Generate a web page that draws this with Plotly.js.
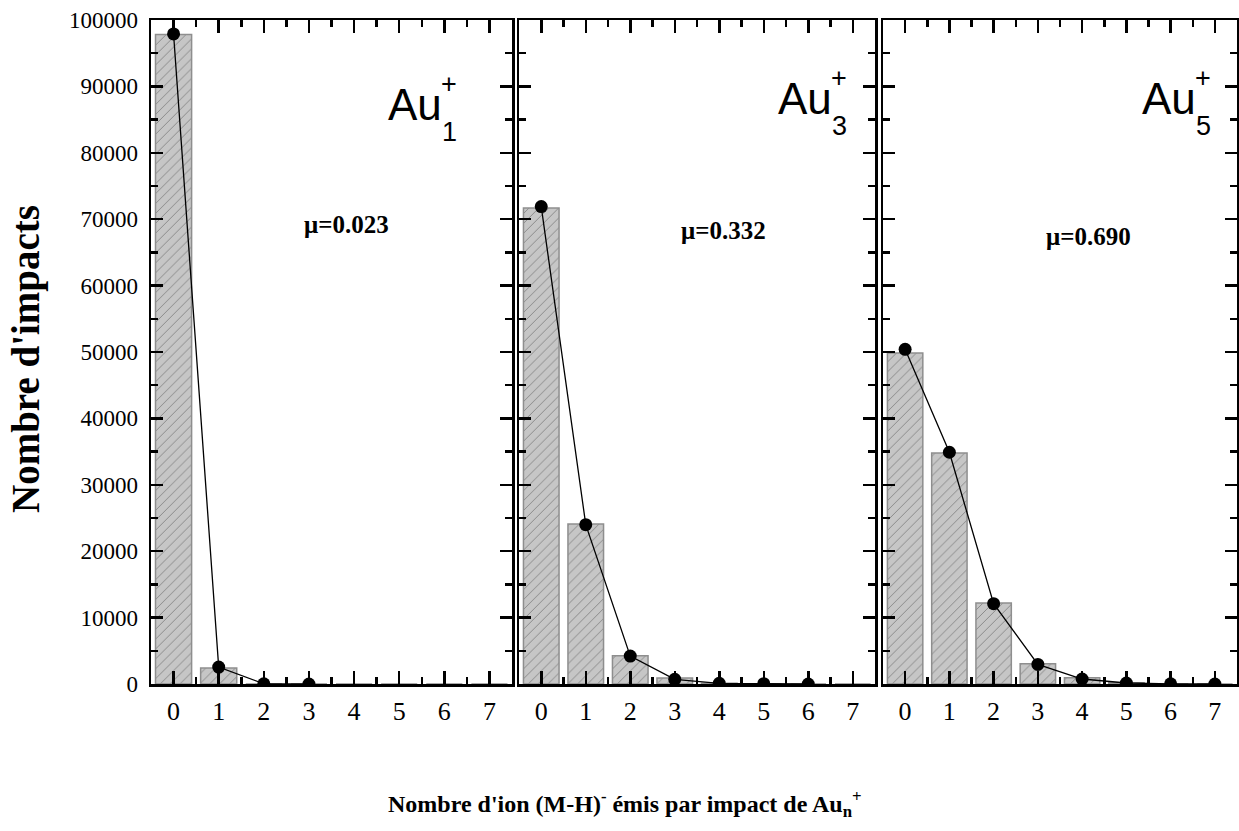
<!DOCTYPE html>
<html>
<head>
<meta charset="utf-8">
<script src="https://cdn.plot.ly/plotly-3.0.1.min.js"></script>
<style>html,body{margin:0;padding:0;background:#fff;}#chart{width:1239px;height:831px;}</style>
</head>
<body>
<div id="chart"></div>
<script>
// ---- data ----
const categories = [0, 1, 2, 3, 4, 5, 6, 7];
const xTickLabels = ['0', '1', '2', '3', '4', '5', '6', '7'];
const au1Bars = [97800, 2400, 0, 0, 0, 0, 0, 0];
const au1PointX = [0, 1, 2, 3];
const au1Points = [97900, 2550, 30, 0];
const au3Bars = [71700, 24100, 4250, 900, 100, 0, 0, 0];
const au3PointX = [0, 1, 2, 3, 4, 5, 6];
const au3Points = [71900, 24000, 4200, 700, 100, 50, 0];
const au5Bars = [49850, 34800, 12200, 3050, 950, 200, 0, 0];
const au5PointX = [0, 1, 2, 3, 4, 5, 6, 7];
const au5Points = [50400, 34900, 12100, 2950, 750, 150, 20, 0];
const ionNames = ['Au', 'Au', 'Au'];
const clusterSizes = ['1', '3', '5'];
const chargeSign = '+';
const muLabels = ['μ=0.023', 'μ=0.332', 'μ=0.690'];
const yTitle = "Nombre d'impacts";
const xTitle = "Nombre d'ion (M-H)<sup>-</sup> émis par impact de Au<sub>n</sub><sup>+</sup>";

// ---- build ----
const serif = 'Liberation Serif, Times New Roman, serif';
const sans = 'Liberation Sans, Arial, sans-serif';
const barStyle = {
  color: '#c6c6c6',
  line: {color: '#8e8e8e', width: 1.5},
  pattern: {shape: '/', fgcolor: '#8a8a8a', bgcolor: '#c6c6c6', size: 7, solidity: 0.14}
};
const panels = [
  {bars: au1Bars, px: au1PointX, py: au1Points},
  {bars: au3Bars, px: au3PointX, py: au3Points},
  {bars: au5Bars, px: au5PointX, py: au5Points}
];
const traces = [];
panels.forEach((p, i) => {
  const xa = i === 0 ? 'x' : 'x' + (i + 1);
  const ya = i === 0 ? 'y' : 'y' + (i + 1);
  traces.push({type: 'bar', x: categories, y: p.bars, xaxis: xa, yaxis: ya,
    width: 0.8, marker: barStyle, showlegend: false});
  traces.push({type: 'scatter', mode: 'lines+markers', x: p.px, y: p.py, xaxis: xa, yaxis: ya,
    line: {color: '#000', width: 1.3}, marker: {color: '#000', size: 13, symbol: 'circle'},
    showlegend: false});
});

const L = 151, R = 2, T = 20, B = 147, FW = 1239, FH = 831;
const W = FW - L - R, H = FH - T - B;
const px = v => (v - L) / W;        // pixel -> paper x
const py = v => (FH - B - v) / H;   // pixel -> paper y
const doms = [[px(151), px(512)], [px(519), px(875)], [px(883), 1]];

function xAxis(i) {
  return {
    domain: doms[i], range: [-0.5, 7.5], tickmode: 'array', tickvals: categories, ticktext: xTickLabels,
    ticks: 'inside', ticklen: 13, tickwidth: 2.5, tickcolor: '#000',
    minor: {ticks: 'inside', ticklen: 7, tickwidth: 2.5, tickcolor: '#000', tickvals: [-0.5, 0.5, 1.5, 2.5, 3.5, 4.5, 5.5, 6.5, 7.5]},
    showline: true, linecolor: '#000', linewidth: 2.5, mirror: 'allticks',
    showgrid: false, zeroline: false, fixedrange: true,
    tickfont: {family: serif, size: 26, color: '#000'},
    ticklabelstandoff: 2,
    anchor: i === 0 ? 'y' : 'y' + (i + 1)
  };
}
function yAxis(i) {
  return {
    domain: [0, 1], range: [0, 100000], dtick: 10000, tick0: 0, tickformat: 'd',
    ticks: 'inside', ticklen: 12, tickwidth: 2.5, tickcolor: '#000',
    minor: {ticks: 'inside', ticklen: 7, tickwidth: 2.5, tickcolor: '#000', dtick: 5000},
    showline: true, linecolor: '#000', linewidth: 2.5, mirror: 'allticks',
    showgrid: false, zeroline: false, fixedrange: true,
    showticklabels: i === 0,
    tickfont: {family: serif, size: 23, color: '#000'},
    ticklabelstandoff: 6,
    anchor: i === 0 ? 'x' : 'x' + (i + 1)
  };
}

// label placements (pixels): [Au left, Au center y, sub left, sub center y, plus left, plus center y]
const labelPos = [
  [386, 104, 440, 132, 439, 84],
  [776, 98, 830, 126, 829, 78],
  [1140, 98, 1194, 126, 1193, 78]
];
const muPos = [[346, 224], [723, 230], [1088, 236]];

const annotations = [];
labelPos.forEach((p, i) => {
  annotations.push({xref: 'paper', yref: 'paper', x: px(p[0]), y: py(p[1]), xanchor: 'left', yanchor: 'middle',
    text: ionNames[i], showarrow: false, font: {family: sans, size: 44, color: '#000'}});
  annotations.push({xref: 'paper', yref: 'paper', x: px(p[2]), y: py(p[3]), xanchor: 'left', yanchor: 'middle',
    text: clusterSizes[i], showarrow: false, font: {family: sans, size: 27, color: '#000'}});
  annotations.push({xref: 'paper', yref: 'paper', x: px(p[4]), y: py(p[5]), xanchor: 'left', yanchor: 'middle',
    text: chargeSign, showarrow: false, font: {family: sans, size: 27, color: '#000'}});
  annotations.push({xref: 'paper', yref: 'paper', x: px(muPos[i][0]), y: py(muPos[i][1]), xanchor: 'center', yanchor: 'middle',
    text: '<b>' + muLabels[i] + '</b>', showarrow: false, font: {family: serif, size: 25, color: '#000'}});
});
annotations.push({xref: 'paper', yref: 'paper', x: px(26), y: py(359), xanchor: 'center', yanchor: 'middle', textangle: -90,
  text: '<b>' + yTitle + '</b>', showarrow: false, font: {family: serif, size: 39, color: '#000'}});
annotations.push({xref: 'paper', yref: 'paper', x: px(625), y: py(804), xanchor: 'center', yanchor: 'middle',
  text: '<b>' + xTitle + '</b>', showarrow: false, font: {family: serif, size: 24, color: '#000'}});

const layout = {
  width: FW, height: FH,
  margin: {l: L, r: R, t: T, b: B},
  paper_bgcolor: '#fff', plot_bgcolor: '#fff',
  xaxis: xAxis(0), xaxis2: xAxis(1), xaxis3: xAxis(2),
  yaxis: yAxis(0), yaxis2: yAxis(1), yaxis3: yAxis(2),
  annotations: annotations
};

Plotly.newPlot('chart', traces, layout, {displayModeBar: false, staticPlot: true});
</script>
</body>
</html>
